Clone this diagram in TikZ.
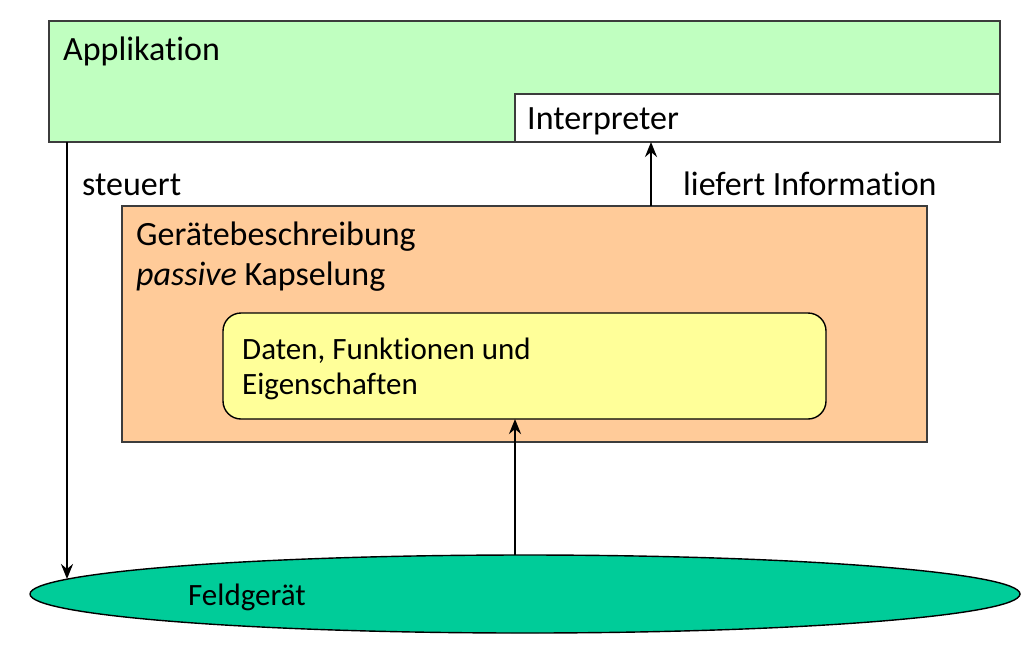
\documentclass[tikz,border=0pt]{standalone}
\usepackage{fontspec}
\setmainfont{Carlito}[Ligatures={NoCommon}]
\usetikzlibrary{arrows.meta,shapes.geometric}
\definecolor{appgreen}{RGB}{192,255,192}
\definecolor{descorange}{RGB}{255,203,153}
\definecolor{datayellow}{RGB}{255,255,153}
\definecolor{fieldgreen}{RGB}{0,204,153}
\definecolor{edgegray}{RGB}{60,60,60}
\tikzset{
  boxstyle/.style={draw=edgegray,line width=1.8pt},
  lbl/.style={inner sep=0pt,anchor=base west,font=\fontsize{34}{40}\selectfont},
  smalllbl/.style={inner sep=0pt,anchor=base west,font=\fontsize{31}{36}\selectfont},
  conn/.style={line width=2.6pt,-{Stealth[length=15pt,width=12pt,inset=5pt]}}
}
\begin{document}
\begin{tikzpicture}[x=1pt,y=-1pt]
\useasboundingbox (0,0) rectangle (1035,657);
% Applikation
\draw[boxstyle,fill=appgreen] (49,21) rectangle (1000,142);
\node[lbl] (app) at (63,60) {Applikation};
% Interpreter
\draw[boxstyle,fill=white] (515,94) rectangle (1000,142);
\node[lbl] (interp) at (527,129) {Interpreter};
\coordinate (interpbot) at (651,142);
\coordinate (appbot) at (67,142);
% Geraetebeschreibung
\draw[boxstyle,fill=descorange] (122,206) rectangle (927,442);
\node[lbl] (geraet) at (136,245) {Gerätebeschreibung};
\node[lbl] (kaps) at (136,285) {\textit{passive} Kapselung};
\coordinate (desctop) at (651,206);
% Daten
\draw[line width=1.4pt,draw=black,fill=datayellow,rounded corners=18pt] (223,313) rectangle (826,419);
\node[smalllbl] (daten) at (242,359) {Daten, Funktionen und};
\node[smalllbl] (eigen) at (242,394) {Eigenschaften};
\coordinate (databot) at (515,419);
% Feldgeraet
\node[draw=black,line width=1.4pt,fill=fieldgreen,ellipse,minimum width=990pt,minimum height=78pt,inner sep=0pt] (feld) at (525,594) {};
\node[smalllbl] (feldtxt) at (188,605) {Feldgerät};
\coordinate (feldend) at (67,579);
\coordinate (feldtop) at (515,555);
% connectors
\draw[conn] (appbot) -- (feldend);
\draw[conn] (feldtop) -- (databot);
\draw[conn] (desctop) -- (interpbot);
\node[lbl] (steuert) at (82,195) {steuert};
\node[lbl] (liefert) at (683,195) {liefert Information};
\end{tikzpicture}
\end{document}
